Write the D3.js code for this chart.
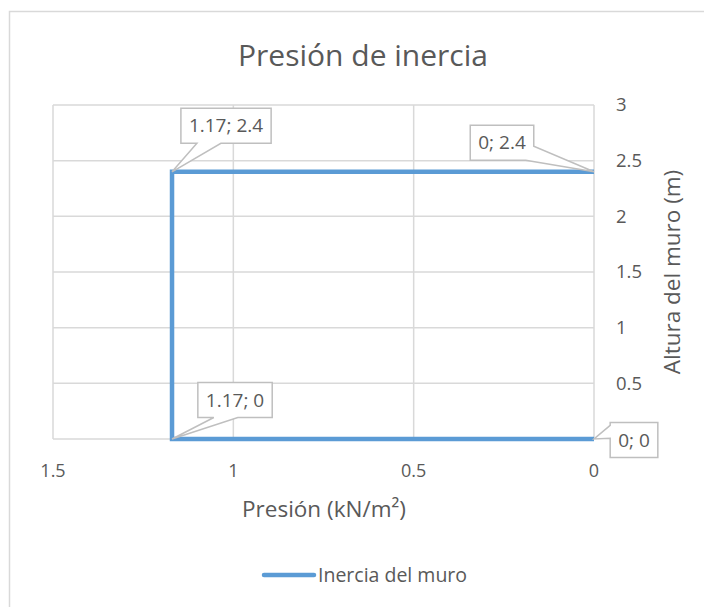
<!DOCTYPE html>
<html>
<head>
<meta charset="utf-8">
<script src="https://cdn.jsdelivr.net/npm/d3@7"></script>
<style>
  body { margin: 0; background: #fff; }
  text { font-family: "Open Sans", "Noto Sans", sans-serif; fill: #595959; }
</style>
</head>
<body>
<svg id="chart" width="704" height="607"></svg>
<script>
// series: Inercia del muro
const presion = [0, 1.17, 1.17, 0];
const altura = [0, 0, 2.4, 2.4];
const xTicks = [0, 0.5, 1, 1.5];
const yTicks = [0, 0.5, 1, 1.5, 2, 2.5, 3];
// label box centre offsets (dx, dy) from the point, and which side the callout leaves from
const labelOffsets = [[40, 1, "left"], [63, -39, "bottom"], [54, -46, "bottom"], [-92, -29, "right"]];

const svg = d3.select("#chart");
const width = 704, height = 607;
const margin = {left: 53, right: 110, top: 105, bottom: 168};

svg.append("rect")
    .attr("x", 9.5).attr("y", 11.5)
    .attr("width", 720).attr("height", 620)
    .attr("fill", "#fff").attr("stroke", "#d9d9d9").attr("stroke-width", 1.5);

const x = d3.scaleLinear().domain([1.5, 0]).range([margin.left, width - margin.right]);
const y = d3.scaleLinear().domain([0, 3]).range([height - margin.bottom, margin.top]);

// grid
svg.append("g")
    .attr("stroke", "#d9d9d9").attr("stroke-width", 1.5)
    .selectAll("line")
    .data(yTicks)
    .join("line")
    .attr("x1", x(1.5)).attr("x2", x(0))
    .attr("y1", d => y(d)).attr("y2", d => y(d));
svg.append("g")
    .attr("stroke", "#d9d9d9").attr("stroke-width", 1.5)
    .selectAll("line")
    .data(xTicks)
    .join("line")
    .attr("x1", d => x(d)).attr("x2", d => x(d))
    .attr("y1", y(0)).attr("y2", y(3));

// x tick labels
svg.append("g")
    .attr("font-size", 18)
    .selectAll("text")
    .data(xTicks)
    .join("text")
    .attr("x", d => x(d))
    .attr("y", y(0) + 38)
    .attr("text-anchor", "middle")
    .text(d => d);

// y tick labels (the 0 one sits under the "0; 0" data label)
svg.append("g")
    .attr("font-size", 18.5)
    .selectAll("text")
    .data(yTicks.filter(d => d > 0))
    .join("text")
    .attr("x", x(0) + 22)
    .attr("y", d => y(d))
    .attr("dy", "0.35em")
    .attr("text-anchor", "start")
    .text(d => d);

// titles
svg.append("text")
    .attr("x", 363).attr("y", 66)
    .attr("text-anchor", "middle")
    .attr("font-size", 30)
    .text("Presión de inercia");
svg.append("text")
    .attr("x", 324).attr("y", 517)
    .attr("text-anchor", "middle")
    .attr("font-size", 22.5)
    .text("Presión (kN/m²)");
svg.append("text")
    .attr("transform", `translate(680, ${y(1.5)}) rotate(-90)`)
    .attr("text-anchor", "middle")
    .attr("font-size", 22.5)
    .text("Altura del muro (m)");

// series line
const pts = presion.map((p, i) => [p, altura[i]]);
svg.append("path")
    .datum(pts)
    .attr("fill", "none")
    .attr("stroke", "#5b9bd5")
    .attr("stroke-width", 4.5)
    .attr("stroke-linejoin", "miter")
    .attr("d", d3.line().x(d => x(d[0])).y(d => y(d[1])));

// data labels with callouts
const lab = svg.append("g").attr("font-size", 19);
pts.forEach((d, i) => {
    const px = x(d[0]), py = y(d[1]);
    const [dx, dy, side] = labelOffsets[i];
    const cx = px + dx, cy = py + dy;
    const t = lab.append("text")
        .attr("x", cx).attr("y", cy)
        .attr("text-anchor", "middle")
        .attr("dy", "0.35em")
        .text(d[0] + "; " + d[1]);
    const tw = t.node().getComputedTextLength();
    const bw = tw + 16, bh = 35;
    const bx = cx - bw / 2, by = cy - bh / 2;
    let poly;
    if (side === "right") {
        poly = [[bx, by], [bx + bw, by], [bx + bw, by + bh * 0.6], [px, py], [bx + bw - 8, by + bh], [bx, by + bh]];
    } else if (side === "left") {
        poly = [[bx, by], [bx + bw, by], [bx + bw, by + bh], [bx, by + bh], [bx, by + bh * 0.45], [px, py], [bx, by + bh * 0.08]];
    } else {
        poly = [[bx, by], [bx + bw, by], [bx + bw, by + bh], [bx + 40, by + bh], [px, py], [bx + 16, by + bh], [bx, by + bh]];
    }
    lab.insert("polygon", "text")
        .attr("points", poly.map(p => p.join(",")).join(" "))
        .attr("fill", "#fff")
        .attr("stroke", "#bfbfbf")
        .attr("stroke-width", 1.5);
    t.raise();
});

// legend
const leg = svg.append("g");
leg.append("line")
    .attr("x1", 264).attr("x2", 314)
    .attr("y1", 575).attr("y2", 575)
    .attr("stroke", "#5b9bd5").attr("stroke-width", 4.5)
    .attr("stroke-linecap", "round");
leg.append("text")
    .attr("x", 318).attr("y", 575)
    .attr("dy", "0.35em")
    .attr("font-size", 19.5)
    .text("Inercia del muro");
</script>
</body>
</html>
